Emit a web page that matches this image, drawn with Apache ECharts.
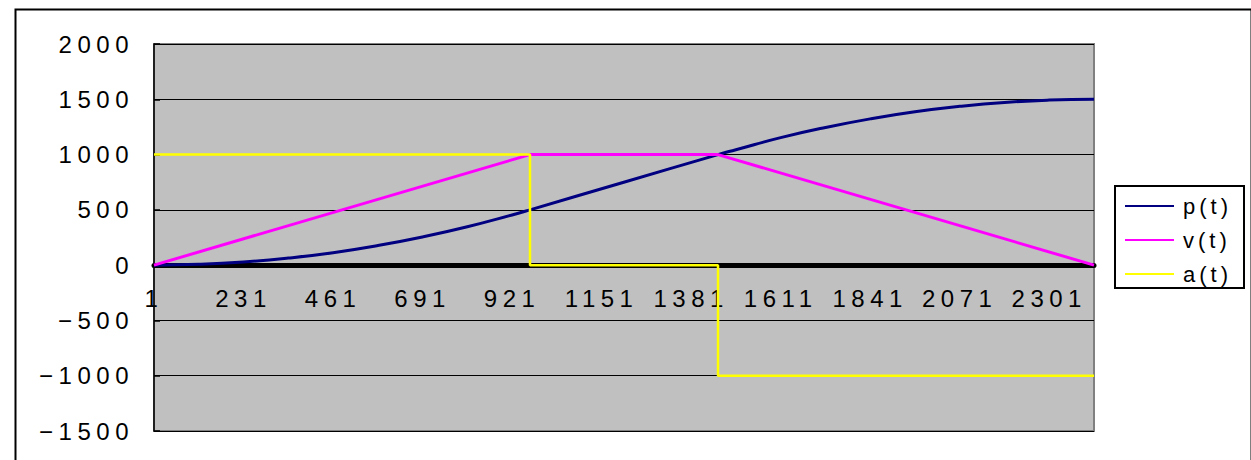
<!DOCTYPE html>
<html>
<head>
<meta charset="utf-8">
<script src="https://cdn.jsdelivr.net/npm/echarts@6/dist/echarts.min.js"></script>
<style>
  html, body { margin: 0; padding: 0; background: #ffffff; }
  #chart { width: 1251px; height: 460px; }
  /* wide, evenly spaced glyphs for the axis labels */
  #chart svg text { letter-spacing: 5.5px; }
  /* legend entries use a tighter spacing */
  #chart svg text[style*="sans-serif"],
  #chart svg text[font-family*="sans-serif"] { letter-spacing: 4px; }
</style>
</head>
<body>
<div id="chart"></div>
<script>
// Motion profile sampled on a 1-based sample index.
const lastSample = 2416;

// Acceleration a(t): +1000, then 0 while cruising, then -1000.
const aSamples = [1, 967, 967, 1450, 1450, 2416];
const aValues  = [1000, 1000, 0, 0, -1000, -1000];

// Velocity v(t): ramp up, cruise, ramp down.
const vSamples = [1, 967, 1450, 2416];
const vValues  = [0, 1000, 1000, 0];

// Position p(t): S-curve from 0 to 1500.
const pSamples = [1, 116, 231, 346, 461, 576, 691, 806, 921, 967, 1208, 1450,
                  1496, 1611, 1726, 1841, 1956, 2071, 2186, 2301, 2416];
const pValues  = [0, 7, 28, 64, 113, 177, 255, 347, 454, 500, 750, 1000,
                  1044, 1153, 1245, 1323, 1387, 1436, 1472, 1493, 1500];

// Axis tick labels.
const xTickLabels = ['1', '231', '461', '691', '921', '1151', '1381', '1611', '1841', '2071', '2301'];
const xTickStep = 230;
const yTicks = [-1500, -1000, -500, 0, 500, 1000, 1500, 2000];

const seriesNames = ['p(t)', 'v(t)', 'a(t)'];
const seriesColors = ['#000080', '#FF00FF', '#FFFF00'];

// x is plotted as (sample - 1) so ticks fall on multiples of the step.
const toPoints = (samples, values) => samples.map((s, i) => [s - 1, values[i]]);

const axisFont = 'Liberation Sans';
const legendFont = 'Liberation Sans, sans-serif';

// Grid edges and the pixel drop from the zero line to the bottom edge,
// used to hang the sample-index labels just below the zero line.
const gridTop = 44, gridBottom = 29, chartHeight = 460;
const plotHeight = chartHeight - gridTop - gridBottom;
const zeroDrop = plotHeight * (0 - yTicks[0]) / (yTicks[yTicks.length - 1] - yTicks[0]);

const chart = echarts.init(document.getElementById('chart'), null, { renderer: 'svg' });

const xBase = {
  type: 'value',
  min: 0,
  max: lastSample - 1,
  interval: xTickStep,
  splitLine: { show: false },
  axisTick: { show: false }
};

chart.setOption({
  animation: false,
  backgroundColor: '#ffffff',
  graphic: [
    {
      // outer chart frame
      type: 'rect',
      left: 13, top: 7,
      shape: { width: 1236, height: 480 },
      style: { fill: 'none', stroke: '#000000', lineWidth: 2 },
      z: 0
    },
    {
      // legend frame
      type: 'rect',
      left: 1114, top: 185,
      shape: { width: 129, height: 102 },
      style: { fill: '#ffffff', stroke: '#000000', lineWidth: 2 },
      z: 0
    }
  ],
  grid: {
    left: 154, right: 157, top: gridTop, bottom: gridBottom,
    containLabel: false,
    outerBoundsMode: 'none',
    show: true,
    backgroundColor: '#C0C0C0',
    borderColor: '#808080',
    borderWidth: 2
  },
  legend: {
    data: seriesNames,
    orient: 'vertical',
    left: 1114, top: 185,
    padding: [9, 10, 4, 11],
    icon: 'rect',
    itemWidth: 49, itemHeight: 2, itemGap: 10,
    borderWidth: 0,
    textStyle: { fontFamily: legendFont, fontSize: 22, color: '#000000', lineHeight: 24, padding: [0, 0, 0, 4] }
  },
  xAxis: [
    Object.assign({}, xBase, {
      axisLine: { onZero: true, lineStyle: { color: '#000000', width: 5 } },
      axisLabel: { show: false }
    }),
    Object.assign({}, xBase, {
      position: 'bottom',
      offset: -zeroDrop,
      axisLine: { show: false, onZero: false },
      axisLabel: {
        margin: 21,
        showMaxLabel: false,
        fontFamily: axisFont, fontSize: 24, color: '#000000',
        formatter: v => xTickLabels[Math.round(v / xTickStep)] ?? ''
      }
    })
  ],
  yAxis: {
    type: 'value',
    min: yTicks[0],
    max: yTicks[yTicks.length - 1],
    interval: 500,
    axisLine: { show: true, onZero: false, lineStyle: { color: '#000000', width: 1.5 } },
    axisTick: { show: true, inside: true, length: 6, lineStyle: { color: '#000000', width: 1.5 } },
    splitLine: { show: true, lineStyle: { color: '#000000', width: 1.2 } },
    axisLabel: {
      margin: 20, fontFamily: axisFont, fontSize: 24, color: '#000000',
      formatter: v => (v < 0 ? '\u2212' : '') + Math.abs(v)
    }
  },
  series: [
    {
      name: seriesNames[0], type: 'line', symbol: 'none', showSymbol: false,
      smooth: 0.5,
      data: toPoints(pSamples, pValues),
      lineStyle: { color: seriesColors[0], width: 3 },
      itemStyle: { color: seriesColors[0] }
    },
    {
      name: seriesNames[1], type: 'line', symbol: 'none', showSymbol: false,
      data: toPoints(vSamples, vValues),
      lineStyle: { color: seriesColors[1], width: 3 },
      itemStyle: { color: seriesColors[1] }
    },
    {
      name: seriesNames[2], type: 'line', symbol: 'none', showSymbol: false,
      data: toPoints(aSamples, aValues),
      lineStyle: { color: seriesColors[2], width: 2.5 },
      itemStyle: { color: seriesColors[2] }
    }
  ]
});
</script>
</body>
</html>
